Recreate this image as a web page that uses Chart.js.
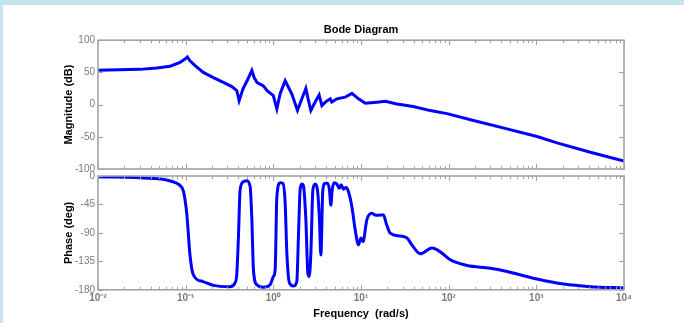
<!DOCTYPE html>
<html>
<head>
<meta charset="utf-8">
<script src="https://cdn.jsdelivr.net/npm/chart.js@4/dist/chart.umd.min.js"></script>
<style>
  html, body { margin: 0; padding: 0; }
  body { width: 684px; height: 323px; background: #c4e3ec; position: relative; overflow: hidden; }
  #paper { position: absolute; left: 3px; top: 5px; right: 0; bottom: 0; background: #fff; }
  canvas { position: absolute; left: 0; top: 0; }
</style>
</head>
<body>
<div id="paper"></div>
<canvas id="mag" width="684" height="323"></canvas>
<canvas id="phase" width="684" height="323"></canvas>
<script>
// magnitude curve (rad/s, dB)
const magFreq = [0.01, 0.0302, 0.0468, 0.0664, 0.0723, 0.0863, 0.0984, 0.1045, 0.112, 0.128, 0.159, 0.207, 0.269, 0.336, 0.383, 0.407,
  0.452, 0.502, 0.569, 0.604, 0.653, 0.771, 0.85, 1.0, 1.096, 1.196, 1.365, 1.627, 1.885, 2.10, 2.35, 2.50, 2.68, 3.00, 3.33, 3.58,
  4.01, 4.45, 4.65, 5.31, 6.60, 7.88, 9.36, 11.2, 15.2, 18.9, 25.7, 39.4, 61.7, 95.7, 192, 463, 1019, 1723, 4130, 10000];
const magDb = [53.5, 54.7, 56.8, 59.5, 61.5, 65.6, 70.8, 74, 68, 60.5, 50, 42, 34.6, 28, 21.7, 6,
  25, 37, 53, 42, 34, 29, 21.7, 14, -6.5, 17, 37, 16.5, -9, 8, 25, 8, -9, 4, 15, -1.5,
  5, 9, 4, 9, 11.5, 17.5, 9, 2, 3.6, 5, 1, -3, -9.3, -14, -24.8, -37.7, -49.6, -59.4, -74, -87.5];

// phase curve (rad/s, deg)
const phaseFreq = [0.01, 0.0392, 0.0608, 0.0791, 0.0863, 0.0942, 0.103, 0.112, 0.122, 0.158, 0.207, 0.321, 0.366, 0.383, 0.400,
  0.418, 0.456, 0.499, 0.544, 0.569, 0.593, 0.648, 0.771, 0.919, 1.002, 1.049, 1.097, 1.196, 1.283, 1.364, 1.426, 1.527, 1.695,
  1.853, 1.933, 2.021, 2.114, 2.206, 2.350, 2.477, 2.564, 2.681, 2.825, 3.000, 3.186, 3.357, 3.483, 3.671, 3.900, 4.146, 4.367,
  4.531, 4.691, 4.943, 5.306, 5.636, 5.939, 6.309, 6.771, 7.197, 7.869, 8.583, 9.355, 9.970, 10.51, 11.68, 13.31, 14.52, 15.84,
  18.07, 19.40, 21.55, 28.01, 33.41, 38.10, 47.41, 64.45, 80.14, 104.3, 113.7, 161.8, 298.5, 463.4, 1019, 2050, 4130, 10000];
const phaseDeg = [-1, -3.7, -6.3, -11.5, -15, -24, -60, -125, -156, -167, -173, -175, -169, -155, -96,
  -22, -9, -7.4, -17, -69, -148, -172, -176, -172, -159, -148, -33, -10.6, -11.5, -43, -122, -169, -174,
  -167, -96, -22, -12.6, -15.8, -69, -154, -159, -122, -22, -12.6, -22, -69, -125, -22, -11.5, -11.5, -22,
  -46, -22, -10.6, -12.6, -19.5, -14, -21, -18, -24.8, -48.5, -85, -109, -98, -104, -69, -59, -61.6, -62,
  -61.6, -75, -90.5, -95, -98, -109, -123, -114, -120, -132.6, -135, -141.6, -145.8, -151, -163, -171, -175, -177];

const decades = [0.01, 0.1, 1, 10, 100, 1000, 10000];
const decadeLabels = ['10⁻²', '10⁻¹', '10⁰', '10¹', '10²', '10³', '10⁴'];
const magTicks = [-100, -50, 0, 50, 100];
const phaseTicks = [-180, -135, -90, -45, 0];

const axisColor = '#a3a3a3';
const labelColor = '#7a7a7a';
const fontFam = "Arial, 'Liberation Sans', Helvetica, sans-serif";

// matlab style box with inward ticks on all four sides
const boxTicks = {
  id: 'boxTicks',
  afterDraw(chart) {
    const ctx = chart.ctx, a = chart.chartArea;
    const xs = chart.scales.x, ys = chart.scales.y;
    ctx.save();
    ctx.strokeStyle = axisColor;
    ctx.lineWidth = 1;
    ctx.beginPath();
    decades.forEach(d => {
      for (let m = 1; m <= 9; m++) {
        const v = d * m;
        if (v > 10000) break;
        const px = Math.round(xs.getPixelForValue(v)) + 0.5;
        const len = m === 1 ? 5 : 3;
        ctx.moveTo(px, a.top); ctx.lineTo(px, a.top + len);
        ctx.moveTo(px, a.bottom); ctx.lineTo(px, a.bottom - len);
      }
    });
    ys.ticks.forEach(t => {
      const py = Math.round(ys.getPixelForValue(t.value)) + 0.5;
      ctx.moveTo(a.left, py); ctx.lineTo(a.left + 5, py);
      ctx.moveTo(a.right, py); ctx.lineTo(a.right - 5, py);
    });
    ctx.stroke();
    ctx.lineWidth = 1.6;
    ctx.strokeRect(a.left, a.top, a.right - a.left, a.bottom - a.top);
    ctx.restore();
  }
};

function makeChart(id, freq, vals, yMin, yMax, yTicks, yTitle, pad, xOpts) {
  return new Chart(document.getElementById(id), {
    type: 'line',
    data: {
      datasets: [{
        data: freq.map((f, i) => ({ x: f, y: vals[i] })),
        borderColor: '#0000ff',
        borderWidth: 3,
        pointRadius: 0,
        tension: 0,
        cubicInterpolationMode: id === 'phase' ? 'monotone' : 'default',
        fill: false
      }]
    },
    options: {
      responsive: false,
      animation: false,
      layout: { padding: pad },
      plugins: { legend: { display: false }, tooltip: { enabled: false } },
      scales: {
        x: Object.assign({
          type: 'logarithmic',
          min: 0.01,
          max: 10000,
          grid: { display: false, drawTicks: false },
          border: { display: false },
          afterBuildTicks: s => { s.ticks = decades.map(v => ({ value: v })); }
        }, xOpts),
        y: {
          min: yMin,
          max: yMax,
          grid: { display: false, drawTicks: false },
          border: { display: false },
          afterBuildTicks: s => { s.ticks = yTicks.map(v => ({ value: v })); },
          ticks: { color: labelColor, font: { family: fontFam, size: 10 }, padding: 3 },
          title: { display: true, text: yTitle, color: '#000', font: { family: fontFam, size: 11, weight: 'bold' }, padding: { top: 2, bottom: 0 } },
          afterFit: s => { s.width = 38; }
        }
      }
    },
    plugins: [boxTicks]
  });
}

makeChart('mag', magFreq, magDb, -100, 100, magTicks, 'Magnitude (dB)',
  { left: 60, right: 60, top: 23, bottom: 154 },
  {
    position: 'top',
    ticks: { display: false },
    title: { display: true, text: 'Bode Diagram', color: '#000', font: { family: fontFam, size: 11, weight: 'bold' }, padding: { top: 0, bottom: 4 } }
  });

makeChart('phase', phaseFreq, phaseDeg, -180, 0, phaseTicks, 'Phase (deg)',
  { left: 60, right: 60, top: 176, bottom: 2 },
  {
    position: 'bottom',
    ticks: {
      autoSkip: false, maxRotation: 0, padding: 2, color: labelColor,
      font: { family: fontFam, size: 10, weight: 'bold' },
      callback: v => decadeLabels[decades.indexOf(v)]
    },
    title: { display: true, text: 'Frequency  (rad/s)', color: '#000', font: { family: fontFam, size: 11, weight: 'bold' }, padding: { top: 2, bottom: 0 } }
  });
</script>
</body>
</html>
